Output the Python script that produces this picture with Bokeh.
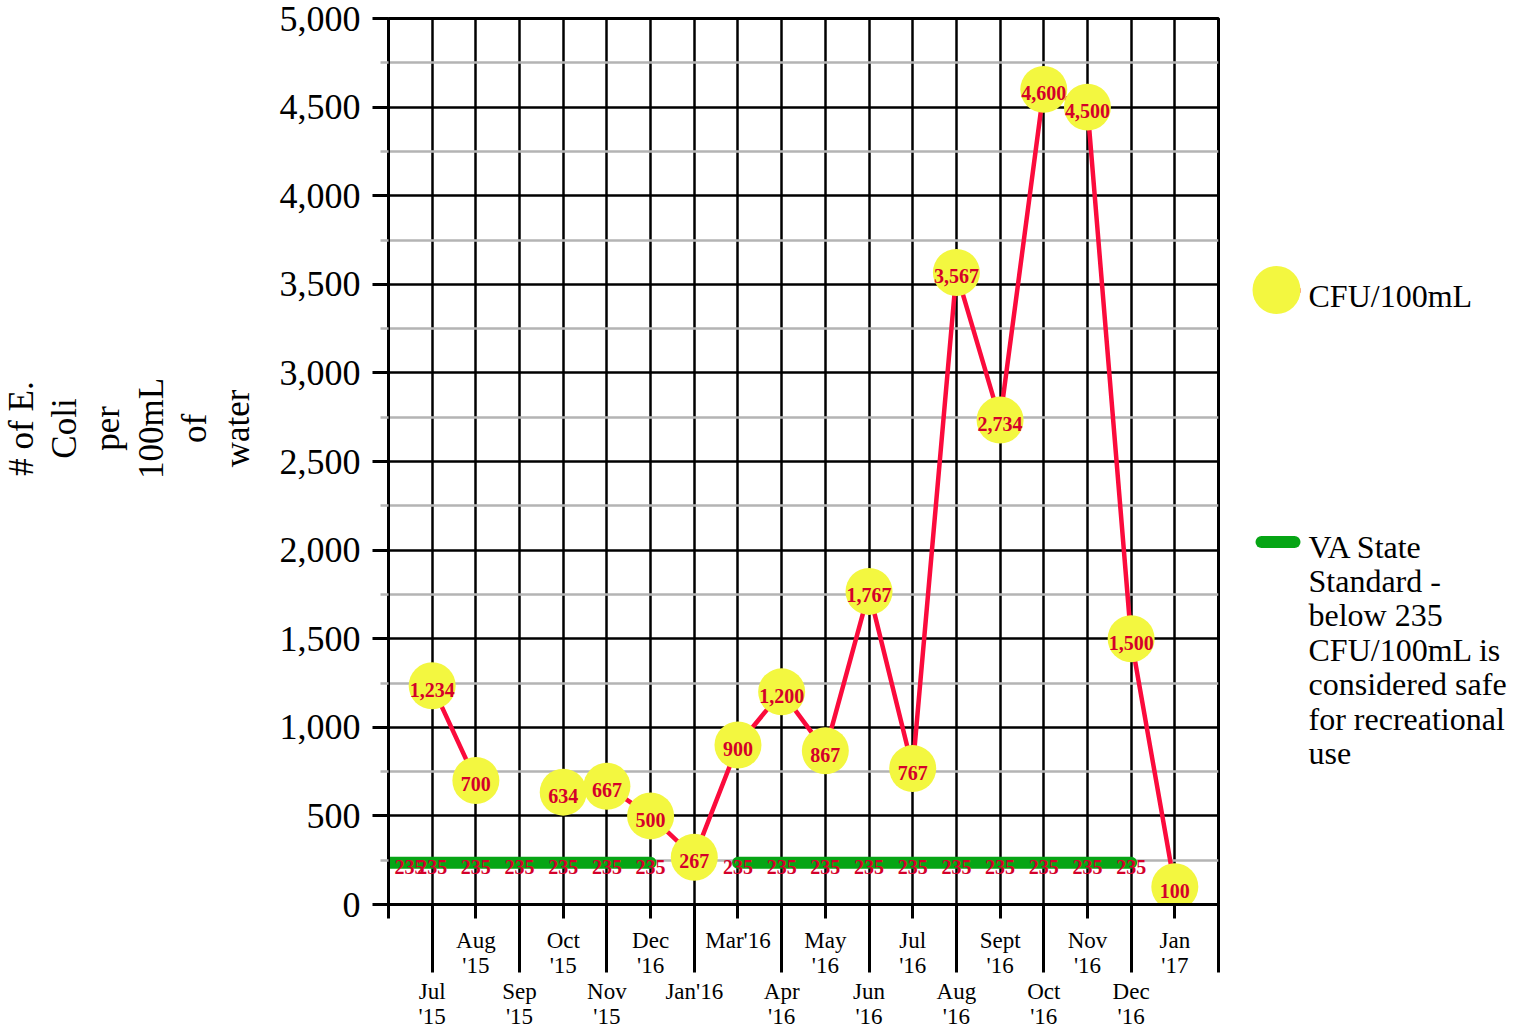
import math
from bokeh.plotting import figure
from bokeh.models import ColumnDataSource, FixedTicker, NumeralTickFormatter, Range1d
from bokeh.layouts import row
from bokeh.embed import file_html
from bokeh.resources import INLINE
from bokeh.core.properties import value

nan = float("nan")

# ---- data -------------------------------------------------------------
categories = ["", "Jul\n'15", "Aug\n'15", "Sep\n'15", "Oct\n'15", "Nov\n'15", "Dec\n'16",
              "Jan'16", "Mar'16", "Apr\n'16", "May\n'16", "Jun\n'16", "Jul\n'16",
              "Aug\n'16", "Sept\n'16", "Oct\n'16", "Nov\n'16", "Dec\n'16", "Jan\n'17", ""]
cfu = [nan, 1234, 700, nan, 634, 667, 500, 267, 900, 1200, 867, 1767, 767,
       3567, 2734, 4600, 4500, 1500, 100, nan]
standard = [235, 235, 235, 235, 235, 235, 235, nan, 235, 235, 235, 235, 235,
            235, 235, 235, 235, 235, nan, nan]
y_ticks = [0, 500, 1000, 1500, 2000, 2500, 3000, 3500, 4000, 4500, 5000]
y_minor_ticks = [250, 750, 1250, 1750, 2250, 2750, 3250, 3750, 4250, 4750]
y_label_lines = ["# of E.", "Coli", "per", "100mL", "of", "water"]
series1_name = "CFU/100mL"
series2_lines = ["VA State", "Standard -", "below 235", "CFU/100mL is",
                 "considered safe", "for recreational", "use"]

# ---- style ------------------------------------------------------------
FONT = "Liberation Serif"
YELLOW = "#f3f740"
RED = "#fb0b3c"
LABEL_RED = "#d4002a"
GREEN = "#06a515"
GRAY = "#b4b4b4"
H = 1032
TOP, BOTTOM = 18, 128

xs = list(range(len(categories)))
src = ColumnDataSource(dict(x=xs, cfu=cfu, std=standard))

pts = [(i, v) for i, v in zip(xs, cfu) if not math.isnan(v)]
lab_src = ColumnDataSource(dict(x=[a for a, _ in pts], y=[b for _, b in pts],
                                t=[f"{b:,}" for _, b in pts]))
spts = [(i, v) for i, v in zip(xs, standard) if not math.isnan(v)]
std_lab_src = ColumnDataSource(dict(x=[a for a, _ in spts], y=[b for _, b in spts],
                                    t=[f"{b:,}" for _, b in spts],
                                    dx=[21 if a == 0 else 0 for a, _ in spts]))

# ---- main chart -------------------------------------------------------
p = figure(width=958, height=H, x_range=Range1d(0, len(categories) - 1),
           y_range=Range1d(0, 5000), output_backend="svg", toolbar_location=None,
           min_border_left=118, min_border_right=10, min_border_top=TOP,
           min_border_bottom=BOTTOM)
p.background_fill_color = "white"
p.border_fill_color = "white"
p.outline_line_color = "black"
p.outline_line_width = 3

# y axis
ya = p.yaxis[0]
ya.ticker = FixedTicker(ticks=y_ticks, minor_ticks=y_minor_ticks)
ya.formatter = NumeralTickFormatter(format="0,0")
ya.major_label_text_font = FONT
ya.major_label_text_font_size = "36px"
ya.major_label_text_color = "black"
ya.major_label_standoff = 12
ya.axis_line_width = 3
ya.axis_line_color = "black"
ya.major_tick_out = 16
ya.major_tick_in = 0
ya.major_tick_line_width = 3
ya.major_tick_line_color = "black"
ya.minor_tick_out = 8
ya.minor_tick_in = 0
ya.minor_tick_line_width = 2.5
ya.minor_tick_line_color = GRAY

# x axis: two staggered rows of labels; long ticks under the lower row
long_ticks = [i for i in xs if i % 2 == 1]
xa = p.xaxis[0]
xa.ticker = FixedTicker(ticks=xs, minor_ticks=long_ticks)
xa.major_label_overrides = {i: ("\n\n" + c if i % 2 == 1 else c)
                            for i, c in enumerate(categories)}
xa.major_label_text_font = FONT
xa.major_label_text_font_size = "23px"
xa.major_label_text_line_height = 1.02
xa.major_label_text_color = "black"
xa.major_label_standoff = -45
xa.axis_line_width = 3
xa.axis_line_color = "black"
xa.major_tick_out = 14
xa.major_tick_in = 0
xa.major_tick_line_width = 3
xa.major_tick_line_color = "black"
xa.minor_tick_out = 68
xa.minor_tick_in = 0
xa.minor_tick_line_width = 3
xa.minor_tick_line_color = "black"

# grids
p.xgrid.grid_line_color = "black"
p.xgrid.grid_line_width = 2.5
p.ygrid.grid_line_color = "black"
p.ygrid.grid_line_width = 2.5
p.ygrid.minor_grid_line_color = GRAY
p.ygrid.minor_grid_line_width = 2.5

# series
p.line("x", "std", source=src, line_color=GREEN, line_width=12, line_cap="round")
p.text("x", "y", text="t", source=std_lab_src, x_offset="dx", y_offset=4,
       text_font=value(FONT), text_font_size="20px", text_font_style="bold",
       text_color=LABEL_RED, text_align="center", text_baseline="middle")
p.line("x", "cfu", source=src, line_color=RED, line_width=4.5)
p.scatter("x", "cfu", source=src, size=47, fill_color=YELLOW, line_color=None)
p.text("x", "y", text="t", source=lab_src, y_offset=4,
       text_font=value(FONT), text_font_size="20px", text_font_style="bold",
       text_color=LABEL_RED, text_align="center", text_baseline="middle")


def side_panel(w):
    f = figure(width=w, height=H, x_range=Range1d(0, w), y_range=Range1d(H - BOTTOM, TOP),
               output_backend="svg", toolbar_location=None,
               min_border_left=0, min_border_right=0, min_border_top=TOP,
               min_border_bottom=BOTTOM, x_axis_location=None, y_axis_location=None)
    f.grid.visible = False
    f.outline_line_color = None
    f.background_fill_color = "white"
    f.border_fill_color = "white"
    return f


# ---- y axis label panel (page pixel coordinates) ----------------------
lf = side_panel(270)
lf.text(x=[21 + 43.2 * i for i in range(len(y_label_lines))],
        y=[428] * len(y_label_lines), text=y_label_lines, angle=math.pi / 2,
        text_align="center", text_baseline="alphabetic", text_font=value(FONT),
        text_font_size="35px", text_color="black")

# ---- legend panel -----------------------------------------------------
gf = side_panel(295)
gf.line(x=[26, 72], y=[290, 290], line_color=RED, line_width=4.5)
gf.scatter(x=[48], y=[289.5], size=48, fill_color=YELLOW, line_color=None)
gf.text(x=[80], y=[295], text=[series1_name], text_font=value(FONT),
        text_font_size="32px", text_color="black", text_baseline="alphabetic")
gf.line(x=[33, 66], y=[541.5, 541.5], line_color=GREEN, line_width=12, line_cap="round")
gf.text(x=[80] * len(series2_lines), y=[546 + 34.4 * i for i in range(len(series2_lines))],
        text=series2_lines, text_font=value(FONT), text_font_size="32px",
        text_color="black", text_baseline="alphabetic")

layout = row(lf, p, gf)
open("out.html", "w").write(file_html(layout, INLINE))
